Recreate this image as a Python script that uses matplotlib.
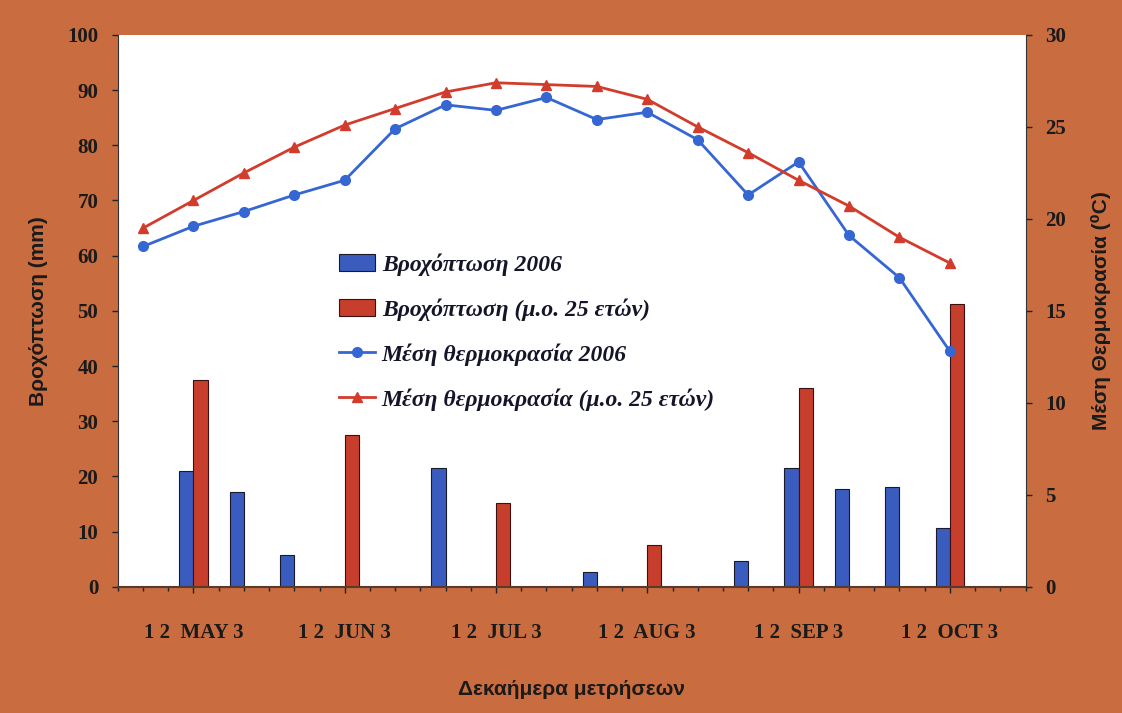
import matplotlib
matplotlib.use("Agg")
import matplotlib.pyplot as plt
import numpy as np

# ---- data ----
dekads = ["MAY 1", "MAY 2", "MAY 3", "JUN 1", "JUN 2", "JUN 3",
          "JUL 1", "JUL 2", "JUL 3", "AUG 1", "AUG 2", "AUG 3",
          "SEP 1", "SEP 2", "SEP 3", "OCT 1", "OCT 2", "OCT 3"]
month_labels = ["1 2  MAY 3", "1 2  JUN 3", "1 2  JUL 3", "1 2  AUG 3", "1 2  SEP 3", "1 2  OCT 3"]
rain_2006 = [0, 21, 17.2, 5.8, 0, 0, 21.5, 0, 0, 2.6, 0, 0, 4.7, 21.5, 17.7, 18.1, 10.6, 0]
rain_avg = [0, 37.5, 0, 0, 27.5, 0, 0, 15.2, 0, 0, 7.5, 0, 0, 36.1, 0, 0, 51.3, 0]
temp_2006 = [18.5, 19.6, 20.4, 21.3, 22.1, 24.9, 26.2, 25.9, 26.6, 25.4, 25.8, 24.3,
             21.3, 23.1, 19.1, 16.8, 12.8, np.nan]
temp_avg = [19.5, 21.0, 22.5, 23.9, 25.1, 26.0, 26.9, 27.4, 27.3, 27.2, 26.5, 25.0,
            23.6, 22.1, 20.7, 19.0, 17.6, np.nan]
leg_labels = ["Βροχόπτωση 2006", "Βροχόπτωση (μ.ο. 25 ετών)",
              "Μέση θερμοκρασία 2006", "Μέση θερμοκρασία (μ.ο. 25 ετών)"]

bg = "#c96c3f"
blue_bar = "#3a5cbf"
red_bar = "#c73f2c"
blue_line = "#3566d2"
red_line = "#d23c2c"

serif = ["Liberation Serif", "DejaVu Serif"]
sans = ["Liberation Sans", "DejaVu Sans"]

fig = plt.figure(figsize=(11.22, 7.13), dpi=100, facecolor=bg)
ax = fig.add_axes([0.105, 0.177, 0.809, 0.774])
ax.set_facecolor("white")

x = np.arange(len(dekads))
w = 0.28
b1 = ax.bar(x - w / 2, rain_2006, w, color=blue_bar, edgecolor="#1a1a2a", linewidth=0.8, zorder=2)
b2 = ax.bar(x + w / 2, rain_avg, w, color=red_bar, edgecolor="#3a1010", linewidth=0.8, zorder=2)

ax.set_xlim(-0.5, len(dekads) - 0.5)
ax.set_ylim(0, 100)
ax.set_yticks(np.arange(0, 101, 10))
ax.set_yticklabels([str(v) for v in range(0, 101, 10)], fontfamily=serif, fontweight="bold", fontsize=15)
ax.set_xticks(np.arange(1, len(dekads), 3))
ax.set_xticklabels(month_labels, fontfamily=serif, fontweight="bold", fontsize=15)
ax.set_xticks(np.arange(-0.5, len(dekads), 0.5), minor=True)
ax.tick_params(axis="x", which="major", length=4, width=1, pad=22, colors="#222222")
ax.tick_params(axis="x", which="minor", length=3, width=1, colors="#222222")
ax.tick_params(axis="y", length=4, width=1, direction="out", pad=10, colors="#222222")
for lbl in ax.get_xticklabels() + ax.get_yticklabels():
    lbl.set_color("#1a1a1a")
ax.set_ylabel("Βροχόπτωση (mm)", fontfamily=sans, fontweight="bold", fontsize=15, labelpad=14, color="#1a1a1a")
ax.set_xlabel("Δεκαήμερα μετρήσεων", fontfamily=sans, fontweight="bold", fontsize=15, labelpad=27, color="#1a1a1a")
for s in ["top", "right"]:
    ax.spines[s].set_visible(False)
ax.spines["left"].set_color("#333333")
ax.spines["bottom"].set_color("#5a3a2a")
ax.spines["bottom"].set_linewidth(1.5)

ax2 = ax.twinx()
l1, = ax2.plot(x, temp_2006, color=blue_line, marker="o", markersize=7, linewidth=2.0, zorder=3)
l2, = ax2.plot(x, temp_avg, color=red_line, marker="^", markersize=7, linewidth=2.0, zorder=3)
ax2.set_ylim(0, 30)
ax2.set_yticks(np.arange(0, 31, 5))
ax2.set_yticklabels([str(v) for v in range(0, 31, 5)], fontfamily=serif, fontweight="bold", fontsize=15, color="#1a1a1a")
ax2.tick_params(axis="y", length=4, width=1, direction="out", pad=10, colors="#222222")
for lbl in ax2.get_yticklabels():
    lbl.set_color("#1a1a1a")
ax2.set_ylabel("Μέση Θερμοκρασία (⁰C)", fontfamily=sans, fontweight="bold", fontsize=15, labelpad=18, color="#1a1a1a")
for s in ["top", "left"]:
    ax2.spines[s].set_visible(False)
ax2.spines["right"].set_color("#333333")
ax2.spines["bottom"].set_visible(False)

leg = ax2.legend([b1, b2, l1, l2], leg_labels, loc="upper left",
                 bbox_to_anchor=(318 / 1122, 1 - 232 / 713), bbox_transform=fig.transFigure,
                 frameon=False, labelspacing=0.95, handlelength=1.5, handletextpad=0.3,
                 prop={"family": serif, "weight": "bold", "style": "italic", "size": 17})
for t in leg.get_texts():
    t.set_color("#15152a")

fig.savefig("out.png", dpi=100, facecolor=bg)
